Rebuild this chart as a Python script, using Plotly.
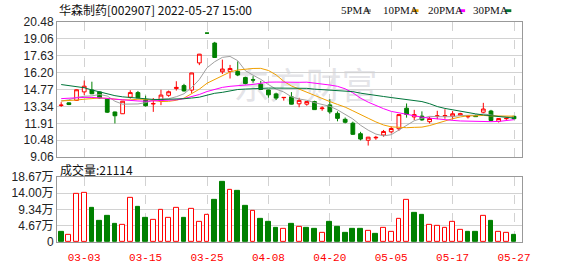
import plotly.graph_objects as go

# ---------------- data ----------------
dates = ['02-28', '03-01', '03-02', '03-03', '03-04', '03-07', '03-08', '03-09', '03-10', '03-11',
         '03-14', '03-15', '03-16', '03-17', '03-18', '03-21', '03-22', '03-23', '03-24', '03-25',
         '03-28', '03-29', '03-30', '03-31', '04-01', '04-06', '04-07', '04-08', '04-11', '04-12',
         '04-13', '04-14', '04-15', '04-18', '04-19', '04-20', '04-21', '04-22', '04-25', '04-26',
         '04-27', '04-28', '04-29', '05-05', '05-06', '05-09', '05-10', '05-11', '05-12', '05-13',
         '05-16', '05-17', '05-18', '05-19', '05-20', '05-23', '05-24', '05-25', '05-26', '05-27']

opens = [13.42, 13.64, 13.85, 14.57, 14.73, 14.57, 14.00, 12.87, 12.72, 14.12,
         14.51, 13.90, 13.55, 13.80, 14.28, 14.85, 15.10, 14.72, 17.02, 19.54,
         18.70, 16.27, 16.30, 16.30, 15.78, 15.60, 15.22, 14.73, 14.40, 14.08,
         14.15, 13.56, 13.53, 13.75, 13.15, 13.47, 12.75, 12.25, 11.92, 11.03,
         10.48, 10.68, 10.92, 11.19, 11.45, 13.19, 12.45, 12.52, 12.05, 12.50,
         12.52, 12.52, 12.60, 12.46, 12.56, 12.85, 12.95, 12.08, 12.30, 12.50]
highs = [13.70, 13.68, 14.78, 15.53, 15.43, 14.60, 14.05, 12.90, 13.80, 14.71,
         14.65, 14.25, 14.05, 14.75, 14.68, 15.47, 15.25, 16.18, 17.78, 19.54,
         18.80, 17.30, 16.85, 17.15, 15.85, 15.90, 15.50, 14.75, 14.50, 14.12,
         14.55, 14.07, 13.78, 13.82, 13.35, 13.95, 12.92, 12.40, 12.05, 11.19,
         10.76, 10.85, 11.35, 11.65, 12.68, 13.59, 13.05, 12.92, 12.47, 12.97,
         13.10, 12.95, 12.80, 12.56, 12.65, 13.64, 13.05, 12.35, 12.40, 12.55]
lows = [13.30, 13.45, 13.80, 14.31, 14.38, 14.00, 12.78, 11.90, 12.70, 14.00,
        14.05, 13.32, 12.88, 13.45, 14.15, 14.68, 14.60, 14.45, 16.83, 19.54,
        17.45, 16.08, 15.70, 15.90, 15.20, 15.35, 14.75, 14.08, 13.88, 13.83,
        13.50, 13.27, 13.40, 13.05, 12.97, 12.72, 12.08, 11.90, 10.92, 10.47,
        10.03, 10.52, 10.78, 11.06, 11.27, 12.39, 12.18, 12.12, 11.90, 12.26,
        12.30, 12.25, 12.55, 12.32, 12.45, 12.76, 12.10, 11.98, 12.20, 12.25]
closes = [13.45, 13.50, 14.75, 15.05, 14.41, 14.05, 12.85, 12.55, 13.78, 14.51,
          14.07, 13.40, 13.58, 14.30, 14.58, 14.95, 14.65, 16.17, 17.76, 19.54,
          17.48, 16.50, 16.55, 16.00, 15.28, 15.57, 14.77, 14.32, 14.05, 14.10,
          13.53, 13.85, 13.75, 13.07, 13.20, 12.88, 12.33, 12.00, 10.98, 10.58,
          10.74, 10.72, 11.22, 11.47, 12.65, 12.66, 12.65, 12.20, 12.32, 12.54,
          12.56, 12.72, 12.73, 12.50, 12.48, 13.12, 12.15, 12.32, 12.33, 12.30]

# volume in units of 万 (10k lots)
volumes = [3.05, 1.98, 13.83, 14.10, 9.79, 6.02, 7.36, 5.21, 4.94, 12.75,
           10.06, 6.83, 6.29, 9.25, 6.83, 9.79, 6.83, 9.52, 5.75, 7.90,
           11.94, 17.33, 14.91, 14.64, 10.33, 8.98, 6.56, 5.75, 4.13, 3.86,
           5.21, 4.40, 4.13, 3.86, 2.51, 5.75, 4.40, 2.51, 3.86, 3.86,
           3.32, 2.25, 4.13, 3.05, 6.56, 12.21, 8.44, 7.90, 4.94, 4.67,
           4.13, 5.75, 3.59, 2.78, 3.05, 7.36, 6.02, 3.05, 2.51, 2.11]
vol_up = [0, 1, 1, 1, 0, 0, 0, 0, 1, 1,
          0, 0, 1, 1, 1, 1, 0, 1, 1, 1,
          0, 0, 1, 0, 0, 1, 0, 0, 0, 1,
          0, 1, 0, 0, 1, 0, 0, 0, 0, 0,
          1, 0, 1, 1, 1, 1, 0, 0, 1, 1,
          1, 1, 1, 0, 0, 1, 0, 1, 1, 0]

ma5 = [13.80, 13.90, 14.10, 14.20, 14.23, 14.35, 14.22, 13.78, 13.53, 13.55,
       13.55, 13.66, 13.87, 13.97, 13.99, 14.16, 14.41, 14.93, 15.62, 16.61,
       17.12, 17.49, 17.57, 17.21, 16.36, 15.98, 15.63, 15.19, 14.80, 14.56,
       14.15, 13.97, 13.86, 13.66, 13.48, 13.35, 13.05, 12.70, 12.28, 11.75,
       11.33, 11.00, 10.85, 10.95, 11.36, 11.74, 12.13, 12.33, 12.50, 12.47,
       12.45, 12.47, 12.57, 12.61, 12.60, 12.71, 12.60, 12.51, 12.48, 12.44]
ma10 = [13.80, 13.82, 13.88, 13.95, 14.02, 14.05, 14.02, 13.95, 13.90, 13.89,
        13.95, 13.94, 13.83, 13.75, 13.77, 13.86, 14.04, 14.40, 14.80, 15.30,
        15.64, 15.95, 16.25, 16.42, 16.49, 16.55, 16.56, 16.38, 16.01, 15.46,
        15.07, 14.80, 14.52, 14.23, 14.02, 13.75, 13.51, 13.28, 12.97, 12.62,
        12.34, 12.03, 11.77, 11.61, 11.56, 11.54, 11.57, 11.59, 11.72, 11.92,
        12.10, 12.30, 12.45, 12.55, 12.54, 12.58, 12.53, 12.54, 12.55, 12.52]
ma20 = [14.00, 14.05, 14.08, 14.10, 14.10, 14.08, 14.02, 13.95, 13.88, 13.82,
        13.80, 13.78, 13.80, 13.82, 13.85, 13.90, 14.00, 14.15, 14.35, 14.60,
        14.80, 14.95, 15.04, 15.08, 15.13, 15.20, 15.30, 15.39, 15.40, 15.38,
        15.35, 15.38, 15.39, 15.32, 15.25, 15.15, 15.04, 14.83, 14.49, 14.04,
        13.70, 13.41, 13.15, 12.92, 12.79, 12.64, 12.54, 12.43, 12.35, 12.27,
        12.22, 12.16, 12.11, 12.08, 12.05, 12.06, 12.05, 12.07, 12.13, 12.22]
ma30 = [15.19, 15.09, 15.01, 14.92, 14.73, 14.55, 14.39, 14.25, 14.15, 14.09,
        14.04, 13.97, 13.93, 13.93, 13.93, 13.96, 13.99, 14.05, 14.12, 14.29,
        14.45, 14.53, 14.65, 14.77, 14.81, 14.85, 14.87, 14.89, 14.89, 14.88,
        14.89, 14.90, 14.87, 14.80, 14.76, 14.72, 14.70, 14.68, 14.59, 14.46,
        14.35, 14.26, 14.18, 14.09, 14.02, 13.95, 13.88, 13.75, 13.57, 13.33,
        13.17, 13.04, 12.91, 12.80, 12.71, 12.62, 12.54, 12.47, 12.41, 12.35]

tick_dates = ['03-03', '03-15', '03-25', '04-08', '04-20', '05-05', '05-17', '05-27']
price_ticks = [9.06, 10.48, 11.91, 13.34, 14.77, 16.20, 17.63, 19.06, 20.48]
price_tick_text = ['9.06', '10.48', '11.91', '13.34', '14.77', '16.20', '17.63', '19.06', '20.48']
vol_ticks = [0, 4.67, 9.34, 14.00, 18.67]
vol_tick_text = ['0', '4.67万', '9.34万', '14.00万', '18.67万']
title_text = '华森制药[002907] 2022-05-27 15:00'
volume_label = '成交量:21114'
ma_names = ['5PMA', '10PMA', '20PMA', '30PMA']

# ---------------- style ----------------
RED = '#ff0000'
GREEN = '#008000'
MA_COLORS = ['#a0a0a0', '#f0a000', '#ff00ff', '#00753a']
FRAME = '#999999'
GRID = '#d2d2d2'

W, H = 578, 276
L, R, T, B = 56, 56, 22, 21
PW, PH = W - L - R, H - T - B


def px(x):
    return (x - L) / PW


def py(y):
    return (H - B - y) / PH


xs = list(range(len(dates)))
red_idx = [i for i in xs if closes[i] > opens[i]]
green_idx = [i for i in xs if closes[i] <= opens[i]]


def sub(arr, idx):
    return [arr[i] for i in idx]


fig = go.Figure()

for idx, col, fill in [(red_idx, RED, '#ffffff'), (green_idx, GREEN, GREEN)]:
    fig.add_trace(go.Candlestick(
        x=idx, open=sub(opens, idx), high=sub(highs, idx), low=sub(lows, idx), close=sub(closes, idx),
        increasing=dict(line=dict(color=col, width=1), fillcolor=fill),
        decreasing=dict(line=dict(color=col, width=1), fillcolor=fill),
        whiskerwidth=0, showlegend=False, hoverinfo='skip', xaxis='x', yaxis='y'))

for ma, col in zip([ma5, ma10, ma20, ma30], MA_COLORS):
    fig.add_trace(go.Scatter(x=xs, y=ma, mode='lines', line=dict(color=col, width=1),
                             showlegend=False, hoverinfo='skip', xaxis='x', yaxis='y'))

fig.add_trace(go.Bar(
    x=xs, y=volumes, width=0.62,
    marker=dict(color=['#ffffff' if u else GREEN for u in vol_up],
                line=dict(color=[RED if u else GREEN for u in vol_up], width=1)),
    showlegend=False, hoverinfo='skip', xaxis='x2', yaxis='y2'))

tickvals = [dates.index(d) for d in tick_dates]
xr = [-0.546, 60.04]

axis_common = dict(showline=True, mirror=True, linecolor=FRAME, linewidth=1, zeroline=False,
                   ticks='', fixedrange=True)

fig.update_layout(
    width=W, height=H, margin=dict(l=L, r=R, t=T, b=B),
    paper_bgcolor='white', plot_bgcolor='white', showlegend=False,
    font=dict(family='Liberation Sans, Noto Sans CJK SC, sans-serif', size=12, color='#222'),
    xaxis=dict(domain=[0, 1], range=xr, anchor='y', tickvals=tickvals, showticklabels=False,
               showgrid=True, gridcolor=GRID, griddash='dash', gridwidth=1,
               rangeslider=dict(visible=False), **axis_common),
    xaxis2=dict(domain=[0, 1], range=xr, anchor='y2', matches='x', tickvals=tickvals,
                ticktext=tick_dates, showgrid=True, gridcolor=GRID, griddash='dash', gridwidth=1,
                tickfont=dict(family='Liberation Mono, monospace', size=11, color=RED),
                ticklabelstandoff=5, **axis_common),
    yaxis=dict(domain=[py(165), 1], range=[9.06, 20.48], anchor='x', tickvals=price_ticks,
               ticktext=price_tick_text, showgrid=True, gridcolor=GRID, gridwidth=1,
               tickfont=dict(size=12, color='#222'), **axis_common),
    yaxis2=dict(domain=[0, py(186)], range=[0, 18.67], anchor='x2', tickvals=vol_ticks,
                ticktext=vol_tick_text, showgrid=True, gridcolor=GRID, gridwidth=1,
                tickfont=dict(family='Liberation Sans, Noto Sans CJK SC', size=12, color='#222'),
                **axis_common),
    bargap=0,
)

annotations = [
    dict(text=title_text, x=px(56), y=py(9), xref='paper', yref='paper', xanchor='left',
         yanchor='middle', showarrow=False,
         font=dict(family='Noto Sans CJK SC', size=12, color='#111')),
    dict(text=volume_label, x=px(57), y=py(178), xref='paper', yref='paper', xanchor='left',
         yanchor='middle', showarrow=False,
         font=dict(family='Noto Sans CJK SC', size=12, color='#111')),
]
legend_text_x = [338.7, 380.3, 425.7, 471.3]
legend_rect_x = [364.7, 412.3, 459.0, 505.3]
shapes = []
for name, tx, rx, col in zip(ma_names, legend_text_x, legend_rect_x, MA_COLORS):
    annotations.append(dict(text=name, x=px(tx), y=py(9.5), xref='paper', yref='paper',
                            xanchor='left', yanchor='middle', showarrow=False,
                            font=dict(family='Liberation Serif, serif', size=11, color='#111')))
    shapes.append(dict(type='rect', xref='paper', yref='paper', x0=px(rx), x1=px(rx + 6),
                       y0=py(11.5), y1=py(8.5), fillcolor=col, line=dict(width=0)))

# watermark, drawn beneath the data
shapes.append(dict(type='rect', xref='paper', yref='paper', x0=px(225), x1=px(385),
                   y0=py(112), y1=py(74), layer='below', line=dict(width=0),
                   fillcolor='rgba(0,0,0,0)',
                   label=dict(text='东方财富', textposition='middle center',
                              font=dict(family='Noto Sans CJK SC', size=36,
                                        color='rgba(205,205,212,0.55)'))))

fig.update_layout(annotations=annotations, shapes=shapes)

fig.write_html('out.html')
